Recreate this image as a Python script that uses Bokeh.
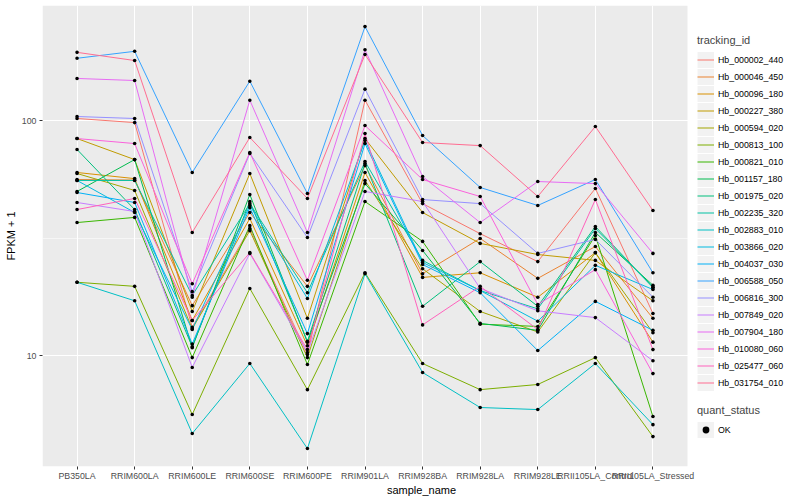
from bokeh.plotting import figure
from bokeh.models import (ColumnDataSource, Legend, LegendItem, FixedTicker,
                          Range1d, NumeralTickFormatter, BoxAnnotation)
from bokeh.embed import file_html
from bokeh.resources import INLINE

samples = ["PB350LA", "RRIM600LA", "RRIM600LE", "RRIM600SE", "RRIM600PE",
           "RRIM901LA", "RRIM928BA", "RRIM928LA", "RRIM928LE",
           "RRII105LA_Control", "RRII105LA_Stressed"]

tracking_ids = ["Hb_000002_440", "Hb_000046_450", "Hb_000096_180", "Hb_000227_380",
                "Hb_000594_020", "Hb_000813_100", "Hb_000821_010", "Hb_001157_180",
                "Hb_001975_020", "Hb_002235_320", "Hb_002883_010", "Hb_003866_020",
                "Hb_004037_030", "Hb_006588_050", "Hb_006816_300", "Hb_007849_020",
                "Hb_007904_180", "Hb_010080_060", "Hb_025477_060", "Hb_031754_010"]

colors = ["#F8766D", "#EA8331", "#D89000", "#C09B00", "#A3A500", "#7CAE00",
          "#39B600", "#00BB4E", "#00BF7D", "#00C1A3", "#00BFC4", "#00BAE0",
          "#00B0F6", "#35A2FF", "#9590FF", "#C77CFF", "#E76BF3", "#FA62DB",
          "#FF62BC", "#FF6C91"]

# FPKM + 1 per sample (order of `samples`)
hb_000002_440 = [102, 98, 13.2, 34.7, 10.1, 122, 44.3, 33.0, 25.1, 51.4, 15.1]
hb_000046_450 = [56.1, 55.8, 16.3, 40.6, 19.7, 64.3, 22.3, 31.5, 21.3, 29.1, 14.4]
hb_000096_180 = [60.1, 56.6, 14.1, 38.3, 11.0, 60.1, 21.5, 22.5, 17.7, 27.4, 11.4]
hb_000227_380 = [83.8, 68.2, 15.4, 59.5, 14.4, 83.8, 40.6, 30.0, 26.9, 25.4, 17.1]
hb_000594_020 = [59.5, 50.4, 13.0, 34.0, 9.8, 55.6, 23.4, 15.4, 12.6, 27.4, 12.5]
hb_000813_100 = [20.5, 19.7, 5.61, 19.3, 7.16, 22.5, 9.25, 7.16, 7.53, 9.8, 4.52]
hb_000821_010 = [36.8, 38.7, 9.8, 35.7, 9.16, 45.2, 30.6, 13.6, 13.3, 32.4, 5.50]
hb_001157_180 = [49.9, 68.2, 10.8, 48.4, 11.4, 53.9, 28.0, 13.7, 12.8, 33.4, 19.9]
hb_001975_020 = [75.3, 41.8, 10.9, 45.2, 11.5, 65.6, 16.2, 25.1, 16.2, 35.4, 19.5]
hb_002235_320 = [55.6, 55.6, 18.0, 44.3, 18.5, 66.9, 25.4, 18.9, 15.8, 34.7, 19.5]
hb_002883_010 = [20.5, 17.1, 4.66, 9.25, 4.02, 22.3, 8.47, 6.01, 5.89, 9.25, 5.08]
hb_003866_020 = [55.6, 40.6, 12.9, 43.5, 17.5, 82.2, 24.9, 18.9, 14.0, 24.2, 19.1]
hb_004037_030 = [49.4, 44.8, 11.2, 42.6, 12.4, 79.8, 24.4, 18.5, 10.5, 17.0, 12.8]
hb_006588_050 = [184, 197, 60.1, 147, 48.9, 251, 86.3, 51.9, 43.5, 56.1, 22.5]
hb_006816_300 = [104, 102, 18.7, 72.4, 31.8, 136, 46.1, 44.3, 27.2, 31.2, 17.7]
hb_007849_020 = [44.8, 41.0, 8.9, 27.2, 10.3, 49.9, 45.2, 19.3, 15.5, 14.5, 9.5]
hb_007904_180 = [151, 148, 17.7, 122, 33.4, 200, 57.8, 36.8, 55.0, 53.9, 27.2]
hb_010080_060 = [83.8, 79.8, 20.2, 73.1, 20.9, 95.2, 56.1, 47.5, 16.5, 23.2, 8.38]
hb_025477_060 = [41.8, 46.6, 14.1, 27.4, 10.6, 88.0, 13.5, 19.7, 12.9, 46.1, 10.6]
hb_031754_010 = [195, 180, 33.4, 84.7, 46.6, 191, 80.6, 78.2, 47.5, 94.3, 41.4]

series = [hb_000002_440, hb_000046_450, hb_000096_180, hb_000227_380, hb_000594_020,
          hb_000813_100, hb_000821_010, hb_001157_180, hb_001975_020, hb_002235_320,
          hb_002883_010, hb_003866_020, hb_004037_030, hb_006588_050, hb_006816_300,
          hb_007849_020, hb_007904_180, hb_010080_060, hb_025477_060, hb_031754_010]

quant_status = ["OK"]

FONT = "Liberation Sans"
xpos = list(range(1, len(samples) + 1))

W, H = 800, 500
LEFT, TOP, BOTTOM = 42, 5, 34
PANEL_W = 645                      # width of the grey data panel in px
frame_w = W - LEFT
x_lo, x_hi = 0.4, len(samples) + 0.6
x_end = x_lo + (x_hi - x_lo) * frame_w / PANEL_W

p = figure(width=W, height=H, y_axis_type="log",
           x_range=Range1d(x_lo, x_end),
           y_range=Range1d(3.372, 308.6),
           output_backend="svg", toolbar_location=None,
           min_border_left=LEFT, min_border_right=0,
           min_border_top=TOP, min_border_bottom=BOTTOM)

p.background_fill_color = "white"
p.border_fill_color = "white"
p.outline_line_color = None

panel = BoxAnnotation(left=x_lo, right=x_hi, fill_color="#EBEBEB", fill_alpha=1,
                      line_color=None, level="image")
p.add_layout(panel)

# axes
p.xaxis.ticker = FixedTicker(ticks=xpos)
p.xaxis.major_label_overrides = {x: s for x, s in zip(xpos, samples)}
p.yaxis.ticker = FixedTicker(ticks=[10, 100], minor_ticks=[10 ** 1.5])
p.yaxis.formatter = NumeralTickFormatter(format="0")
for ax in (p.xaxis[0], p.yaxis[0]):
    ax.axis_line_color = None
    ax.major_tick_line_color = "#333333"
    ax.major_tick_out = 3
    ax.major_tick_in = 0
    ax.minor_tick_line_color = None
    ax.major_label_text_font = FONT
    ax.major_label_text_font_size = "8.8px"
    ax.major_label_text_color = "#4D4D4D"
    ax.axis_label_text_font = FONT
    ax.axis_label_text_font_size = "11px"
    ax.axis_label_text_font_style = "normal"
    ax.axis_label_text_color = "black"
p.xaxis.axis_label = "sample_name"
p.xaxis.major_label_standoff = 1
p.xaxis.axis_label_standoff = 0
p.yaxis.axis_label = "FPKM + 1"
p.yaxis.major_label_standoff = 2
p.yaxis.axis_label_standoff = 2

p.xgrid.grid_line_color = "white"
p.xgrid.grid_line_width = 1.1
p.ygrid.grid_line_color = "white"
p.ygrid.grid_line_width = 1.1
p.ygrid.minor_grid_line_color = "white"
p.ygrid.minor_grid_line_width = 0.55

# legend key background (renderer only used by the legend)
key_bg = p.line(x=xpos, y=series[0], line_width=16, line_color="#F2F2F2", visible=False)

items = []
for tid, vals, col in zip(tracking_ids, series, colors):
    src = ColumnDataSource(dict(x=xpos, y=vals))
    r = p.line(x="x", y="y", source=src, line_color=col, line_width=1.0)
    items.append(LegendItem(label=tid, renderers=[key_bg, r]))

all_x = [x for vals in series for x in xpos]
all_y = [v for vals in series for v in vals]
pts = p.scatter(x=all_x, y=all_y, marker="circle", size=3.6,
                fill_color="black", line_color=None)

def style_legend(leg):
    leg.border_line_color = None
    leg.background_fill_alpha = 0
    leg.padding = 0
    leg.margin = 0
    leg.spacing = 0
    leg.glyph_width = 17
    leg.glyph_height = 17
    leg.label_height = 17
    leg.label_standoff = 4
    leg.label_text_font = FONT
    leg.label_text_font_size = "8.8px"
    leg.label_text_color = "black"
    leg.title_text_font = FONT
    leg.title_text_font_size = "11px"
    leg.title_text_font_style = "normal"
    leg.title_standoff = 5

leg_x = PANEL_W + 10
leg1 = Legend(items=items, title="tracking_id", location=(leg_x, 75))
style_legend(leg1)
p.add_layout(leg1, "center")

leg2 = Legend(items=[LegendItem(label=quant_status[0], renderers=[key_bg, pts])],
              title="quant_status", location=(leg_x, 28))
style_legend(leg2)
p.add_layout(leg2, "center")

open("out.html", "w").write(file_html(p, INLINE))
